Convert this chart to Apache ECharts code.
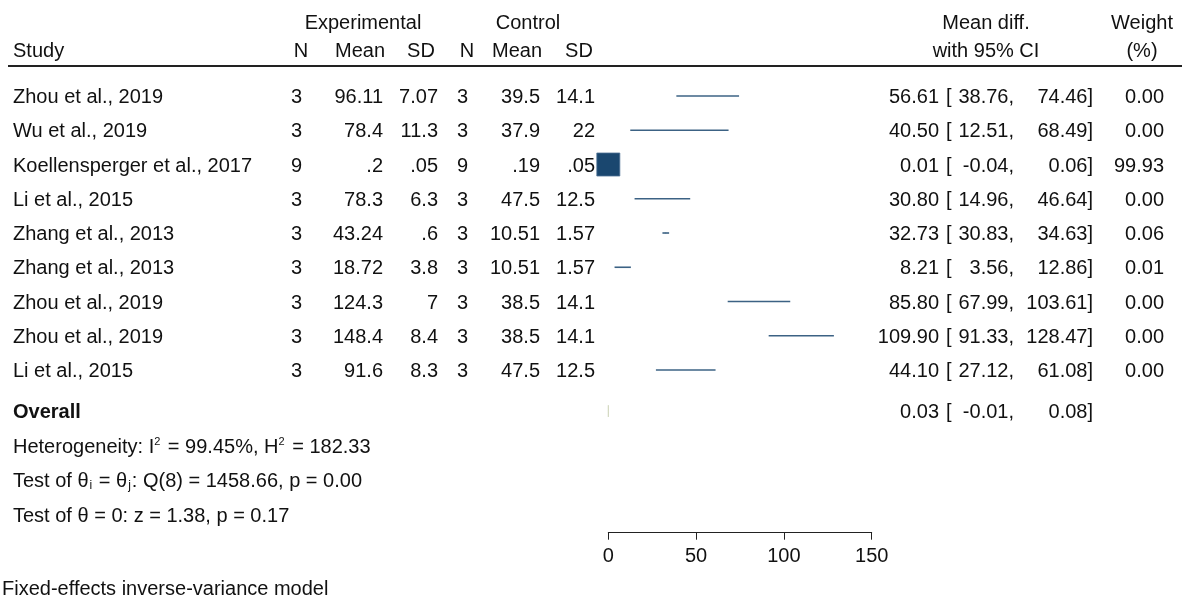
<!DOCTYPE html>
<html>
<head>
<meta charset="utf-8">
<script src="https://cdn.jsdelivr.net/npm/echarts@6/dist/echarts.min.js"></script>
<style>
  html, body { margin: 0; padding: 0; background: #fff; }
  #chart { width: 1182px; height: 598px; }
</style>
</head>
<body>
<div id="chart"></div>
<script>
// Study-level data for the forest plot
const studies = [
  'Zhou et al., 2019', 'Wu et al., 2019', 'Koellensperger et al., 2017',
  'Li et al., 2015', 'Zhang et al., 2013', 'Zhang et al., 2013',
  'Zhou et al., 2019', 'Zhou et al., 2019', 'Li et al., 2015'
];
const nExp    = [3, 3, 9, 3, 3, 3, 3, 3, 3];
const meanExp = ['96.11', '78.4', '.2', '78.3', '43.24', '18.72', '124.3', '148.4', '91.6'];
const sdExp   = ['7.07', '11.3', '.05', '6.3', '.6', '3.8', '7', '8.4', '8.3'];
const nCtl    = [3, 3, 9, 3, 3, 3, 3, 3, 3];
const meanCtl = ['39.5', '37.9', '.19', '47.5', '10.51', '10.51', '38.5', '38.5', '47.5'];
const sdCtl   = ['14.1', '22', '.05', '12.5', '1.57', '1.57', '14.1', '14.1', '12.5'];
const effect  = [56.61, 40.50, 0.01, 30.80, 32.73, 8.21, 85.80, 109.90, 44.10];
const ciLow   = [38.76, 12.51, -0.04, 14.96, 30.83, 3.56, 67.99, 91.33, 27.12];
const ciHigh  = [74.46, 68.49, 0.06, 46.64, 34.63, 12.86, 103.61, 128.47, 61.08];
const weight  = [0.00, 0.00, 99.93, 0.00, 0.06, 0.01, 0.00, 0.00, 0.00];

// Pooled estimate
const overallEffect = [0.03];
const overallLow    = [-0.01];
const overallHigh   = [0.08];
const overallRow    = 9.2;

// Axis ticks
const xTicks = [0, 50, 100, 150];

const FONT = "'Liberation Sans', Arial, sans-serif";
const FS = 20;
const TY = 1.5;       // small baseline nudge for table text
const INK = '#111';
const NAVY = '#1a476f';
const MAX_BOX = 23;   // side of the box for the largest weight, px

function txt(x, y, s, align, extra) {
  return {
    type: 'text', x: x, y: y + TY,
    style: Object.assign({
      text: s, fill: INK, fontSize: FS, fontFamily: FONT,
      align: align || 'left', verticalAlign: 'middle'
    }, extra || {})
  };
}

function ciCells(y, est, lo, hi) {
  return [
    txt(939, y, est.toFixed(2), 'right'),
    txt(946, y, '[', 'left'),
    txt(1014, y, lo.toFixed(2) + ',', 'right'),
    txt(1093, y, hi.toFixed(2) + ']', 'right')
  ];
}

const maxW = Math.max.apply(null, weight);

const chart = echarts.init(document.getElementById('chart'));

const option = {
  animation: false,
  backgroundColor: '#fff',
  grid: { left: 608.3, width: 263.4, top: 61.75, height: 470.95 },
  xAxis: {
    type: 'value', min: xTicks[0], max: xTicks[xTicks.length - 1], interval: 50,
    axisLine: { show: true, onZero: false, lineStyle: { color: '#222', width: 1 } },
    axisTick: { show: true, length: 7, lineStyle: { color: '#222' } },
    axisLabel: { fontSize: FS, fontFamily: FONT, color: INK, margin: 14 },
    splitLine: { show: false }
  },
  yAxis: {
    type: 'value', inverse: true, min: -1, max: 12.75,
    show: false
  },
  series: [
    {
      // table columns for each study
      name: 'table', type: 'custom', clip: false, silent: true,
      data: studies.map((s, i) => [0, i]),
      encode: { x: 0, y: 1 },
      renderItem: function (params, api) {
        const i = params.dataIndex;
        const y = api.coord([0, i])[1];
        return {
          type: 'group',
          children: [
            txt(13, y, studies[i], 'left'),
            txt(302, y, String(nExp[i]), 'right'),
            txt(383, y, meanExp[i], 'right'),
            txt(438, y, sdExp[i], 'right'),
            txt(468, y, String(nCtl[i]), 'right'),
            txt(540, y, meanCtl[i], 'right'),
            txt(595, y, sdCtl[i], 'right'),
            txt(1164, y, weight[i].toFixed(2), 'right')
          ].concat(ciCells(y, effect[i], ciLow[i], ciHigh[i]))
        };
      }
    },
    {
      // confidence intervals and weight boxes
      name: 'ci', type: 'custom', clip: false, silent: true,
      data: studies.map((s, i) => [ciLow[i], ciHigh[i], effect[i], i, weight[i]]),
      encode: { x: [0, 1, 2], y: 3 },
      renderItem: function (params, api) {
        const lo = api.value(0), hi = api.value(1), est = api.value(2);
        const r = api.value(3), w = api.value(4);
        const p1 = api.coord([lo, r]);
        const p2 = api.coord([hi, r]);
        const pc = api.coord([est, r]);
        const side = MAX_BOX * Math.sqrt(w / maxW);
        return {
          type: 'group',
          children: [
            {
              type: 'line',
              shape: { x1: p1[0], y1: p1[1], x2: p2[0], y2: p2[1] },
              style: { stroke: NAVY, lineWidth: 1.6, opacity: 0.85 }
            },
            {
              type: 'rect',
              shape: { x: pc[0] - side / 2, y: pc[1] - side / 2, width: side, height: side },
              style: { fill: NAVY, stroke: '#4f7296', lineWidth: side > 2 ? 0.8 : 0 }
            }
          ]
        };
      }
    },
    {
      // pooled estimate row with diamond
      name: 'overall', type: 'custom', clip: false, silent: true,
      data: [[overallLow[0], overallHigh[0], overallEffect[0], overallRow]],
      encode: { x: [0, 1, 2], y: 3 },
      renderItem: function (params, api) {
        const lo = api.value(0), hi = api.value(1), est = api.value(2), r = api.value(3);
        const h = 0.17;
        const pts = [
          api.coord([lo, r]), api.coord([est, r - h]),
          api.coord([hi, r]), api.coord([est, r + h])
        ];
        const y = api.coord([0, r])[1];
        return {
          type: 'group',
          children: [
            {
              type: 'polygon', shape: { points: pts },
              style: { fill: '#d9ddc9', stroke: '#d3d8c0', lineWidth: 0.9 }
            },
            txt(13, y, 'Overall', 'left', { fontWeight: 'bold' })
          ].concat(ciCells(y, est, lo, hi))
        };
      }
    }
  ],
  graphic: [
    // column headers
    txt(363, 22, 'Experimental', 'center'),
    txt(528, 22, 'Control', 'center'),
    txt(986, 22, 'Mean diff.', 'center'),
    txt(1142, 22, 'Weight', 'center'),
    txt(13, 50, 'Study', 'left'),
    txt(301, 50, 'N', 'center'),
    txt(360, 50, 'Mean', 'center'),
    txt(421, 50, 'SD', 'center'),
    txt(467, 50, 'N', 'center'),
    txt(517, 50, 'Mean', 'center'),
    txt(579, 50, 'SD', 'center'),
    txt(986, 50, 'with 95% CI', 'center'),
    txt(1142, 50, '(%)', 'center'),
    {
      type: 'line',
      shape: { x1: 8, y1: 66, x2: 1182, y2: 66 },
      style: { stroke: '#222', lineWidth: 2 }
    },
    // heterogeneity statistics
    txt(13, 446, 'Heterogeneity: I{sup|2} = 99.45%, H{sup|2} = 182.33', 'left', {
      rich: { sup: { fontSize: 11, fontFamily: FONT, fill: INK, verticalAlign: 'top', padding: [0, 2, 12, 0] } }
    }),
    txt(13, 480, 'Test of θ{sub|i} = θ{sub|j}: Q(8) = 1458.66, p = 0.00', 'left', {
      rich: { sub: { fontSize: 12, fontFamily: FONT, fill: INK, verticalAlign: 'bottom', padding: [7, 1, 0, 1] } }
    }),
    txt(13, 515, 'Test of θ = 0: z = 1.38, p = 0.17', 'left'),
    txt(2, 588, 'Fixed-effects inverse-variance model', 'left')
  ]
};

chart.setOption(option);
</script>
</body>
</html>
